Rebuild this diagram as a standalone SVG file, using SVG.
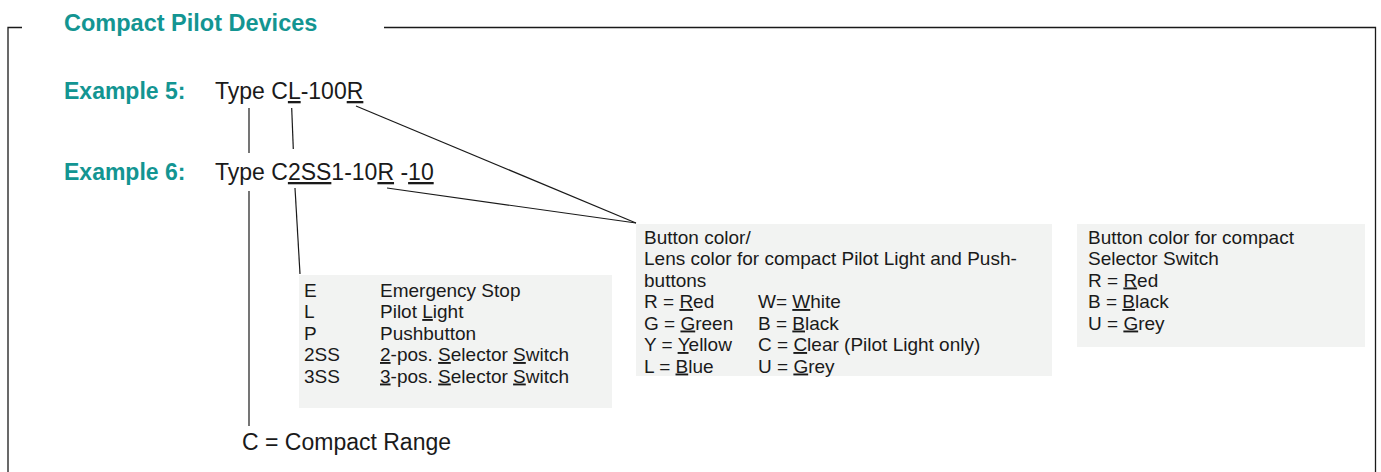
<svg xmlns="http://www.w3.org/2000/svg" width="1381" height="472" viewBox="0 0 1381 472">
<style>
.frame{fill:none;stroke:#1a1a1a;stroke-width:1.3}
.con{fill:none;stroke:#1a1a1a;stroke-width:1.2}
.teal{font-family:"Liberation Sans",Arial,sans-serif;font-weight:bold;fill:#139592}
.big{font-family:"Liberation Sans",Arial,sans-serif;font-size:23px;fill:#1a1a1a}
.sm{font-family:"Liberation Sans",Arial,sans-serif;font-size:19px;fill:#1a1a1a}
.box{fill:#f2f3f2}
.u{text-decoration:underline}
</style>
<rect width="1381" height="472" fill="#ffffff"/>
<g id="frame">
<polyline class="frame" points="22,27.5 8,27.5 8,472"/>
<polyline class="frame" points="384,27.5 1375.5,27.5 1375.5,472"/>
<text class="teal" x="64" y="31" font-size="23.5">Compact Pilot Devices</text>
</g>
<g id="example5">
<text class="teal" x="64" y="99" font-size="23">Example 5:</text>
<text class="big" x="215" y="99">Type C<tspan class="u">L</tspan>-100<tspan class="u">R</tspan></text>
</g>
<g id="example6">
<text class="teal" x="64" y="180" font-size="23">Example 6:</text>
<text class="big" x="215" y="180">Type C<tspan class="u">2SS</tspan>1-10<tspan class="u">R</tspan> -<tspan class="u">10</tspan></text>
</g>
<g id="connectors">
<line class="con" x1="249" y1="108" x2="249" y2="153"/>
<line class="con" x1="291.7" y1="108" x2="293.3" y2="149"/>
<line class="con" x1="356" y1="106" x2="636" y2="223"/>
<line class="con" x1="387" y1="188" x2="636" y2="223"/>
<line class="con" x1="249" y1="191" x2="249" y2="426"/>
<line class="con" x1="295" y1="188" x2="300" y2="274"/>
</g>
<g id="device-box">
<rect class="box" x="299" y="275" width="313" height="133"/>
<text class="sm" x="304" y="296.5">E</text>
<text class="sm" x="380" y="296.5">Emergency Stop</text>
<text class="sm" x="304" y="318">L</text>
<text class="sm" x="380" y="318">Pilot <tspan class="u">L</tspan>ight</text>
<text class="sm" x="304" y="339.5">P</text>
<text class="sm" x="380" y="339.5">Pushbutton</text>
<text class="sm" x="304" y="361">2SS</text>
<text class="sm" x="380" y="361"><tspan class="u">2</tspan>-pos. <tspan class="u">S</tspan>elector <tspan class="u">S</tspan>witch</text>
<text class="sm" x="304" y="382.5">3SS</text>
<text class="sm" x="380" y="382.5"><tspan class="u">3</tspan>-pos. <tspan class="u">S</tspan>elector <tspan class="u">S</tspan>witch</text>
</g>
<g id="lens-box">
<rect class="box" x="636" y="224" width="416" height="152"/>
<text class="sm" x="644" y="243.5">Button color/</text>
<text class="sm" x="644" y="265">Lens color for compact Pilot Light and Push-</text>
<text class="sm" x="644" y="286.5">buttons</text>
<text class="sm" x="644" y="308">R = <tspan class="u">R</tspan>ed</text>
<text class="sm" x="758" y="308">W= <tspan class="u">W</tspan>hite</text>
<text class="sm" x="644" y="329.5">G = <tspan class="u">G</tspan>reen</text>
<text class="sm" x="758" y="329.5">B = <tspan class="u">B</tspan>lack</text>
<text class="sm" x="644" y="351">Y = <tspan class="u">Y</tspan>ellow</text>
<text class="sm" x="758" y="351">C = <tspan class="u">C</tspan>lear (Pilot Light only)</text>
<text class="sm" x="644" y="372.5">L = <tspan class="u">B</tspan>lue</text>
<text class="sm" x="758" y="372.5">U = <tspan class="u">G</tspan>rey</text>
</g>
<g id="selector-box">
<rect class="box" x="1077" y="224" width="288" height="123"/>
<text class="sm" x="1088" y="243.5">Button color for compact</text>
<text class="sm" x="1088" y="265">Selector Switch</text>
<text class="sm" x="1088" y="286.5">R = <tspan class="u">R</tspan>ed</text>
<text class="sm" x="1088" y="308">B = <tspan class="u">B</tspan>lack</text>
<text class="sm" x="1088" y="329.5">U = <tspan class="u">G</tspan>rey</text>
</g>
<g id="compact-range">
<text class="big" x="242" y="450">C = Compact Range</text>
</g>
</svg>
